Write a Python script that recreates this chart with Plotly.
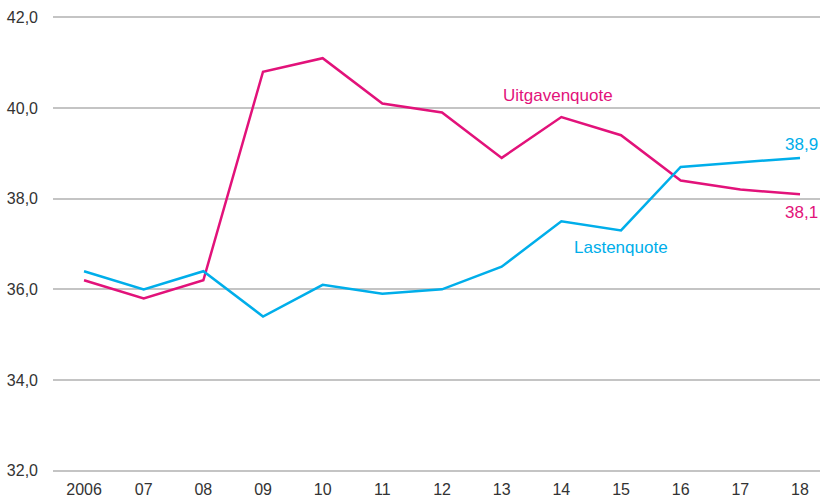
import plotly.graph_objects as go

years = [2006, 2007, 2008, 2009, 2010, 2011, 2012, 2013, 2014, 2015, 2016, 2017, 2018]
year_labels = ["2006", "07", "08", "09", "10", "11", "12", "13", "14", "15", "16", "17", "18"]
uitgavenquote = [36.2, 35.8, 36.2, 40.8, 41.1, 40.1, 39.9, 38.9, 39.8, 39.4, 38.4, 38.2, 38.1]
lastenquote = [36.4, 36.0, 36.4, 35.4, 36.1, 35.9, 36.0, 36.5, 37.5, 37.3, 38.7, 38.8, 38.9]
y_ticks = [32, 34, 36, 38, 40, 42]

MAGENTA = "#E2127A"
BLUE = "#00AEEA"
FONT = "Liberation Sans, Arial, sans-serif"

fig = go.Figure()
fig.add_trace(go.Scatter(x=years, y=uitgavenquote, mode="lines",
                         line=dict(color=MAGENTA, width=2.5), name="Uitgavenquote"))
fig.add_trace(go.Scatter(x=years, y=lastenquote, mode="lines",
                         line=dict(color=BLUE, width=2.5), name="Lastenquote"))


def fmt(v):
    return f"{v:.1f}".replace(".", ",")


annotations = [
    dict(x=2013.95, y=40.28, text="Uitgavenquote", showarrow=False,
         font=dict(color=MAGENTA, size=17, family=FONT)),
    dict(x=2015.0, y=36.93, text="Lastenquote", showarrow=False,
         font=dict(color=BLUE, size=17, family=FONT)),
    dict(x=years[-1], y=lastenquote[-1], text=fmt(lastenquote[-1]), showarrow=False,
         yshift=13, xshift=1, font=dict(color=BLUE, size=17, family=FONT)),
    dict(x=years[-1], y=uitgavenquote[-1], text=fmt(uitgavenquote[-1]), showarrow=False,
         yshift=-18, xshift=1, font=dict(color=MAGENTA, size=17, family=FONT)),
]

fig.update_layout(
    width=820, height=497,
    margin=dict(l=53, r=0, t=16, b=25),
    paper_bgcolor="white", plot_bgcolor="white",
    showlegend=False,
    annotations=annotations,
    font=dict(family=FONT, size=16, color="#333333"),
)
fig.update_xaxes(range=[2005.48, 2018.335], tickvals=years, ticktext=year_labels,
                 showgrid=False, zeroline=False, showline=False, ticks="",
                 ticklabelstandoff=6, tickfont=dict(size=16, color="#333333"))
fig.update_yaxes(range=[31.97, 42.03], tickvals=y_ticks, ticktext=[fmt(v) for v in y_ticks],
                 showgrid=True, gridcolor="#C4C4C4", gridwidth=1.5, zeroline=False,
                 showline=False, ticks="", ticklabelstandoff=14,
                 tickfont=dict(size=16, color="#333333"))

fig.write_html("out.html")
